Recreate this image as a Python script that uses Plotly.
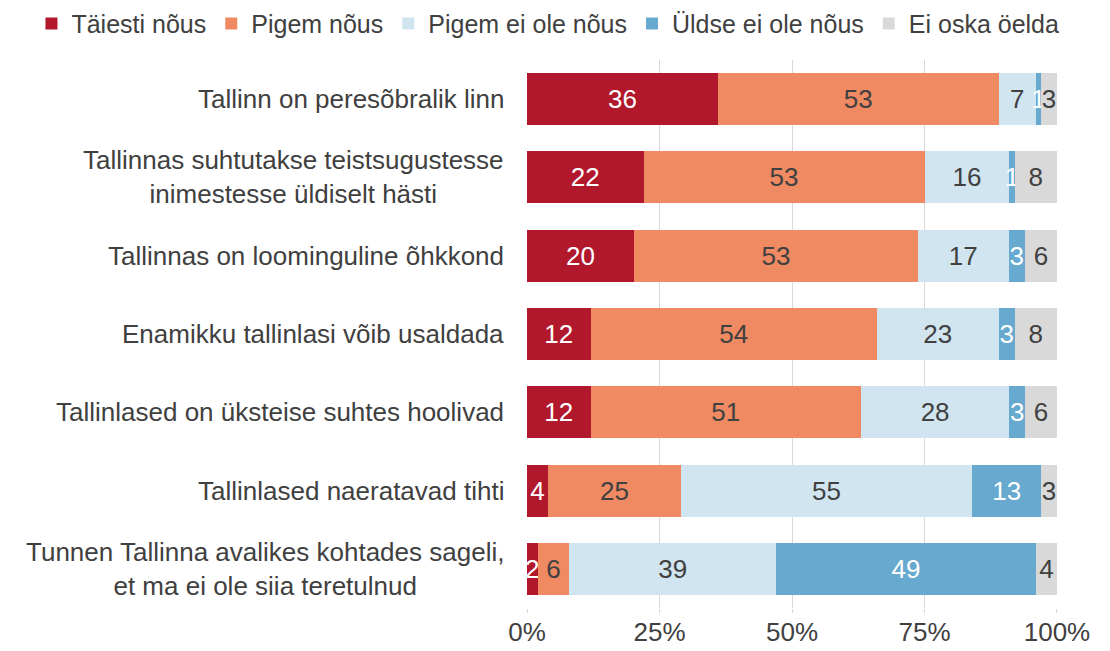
import plotly.graph_objects as go

categories = [
    "Tallinn on peresõbralik linn",
    "Tallinnas suhtutakse teistsugustesse<br>inimestesse üldiselt hästi",
    "Tallinnas on loominguline õhkkond",
    "Enamikku tallinlasi võib usaldada",
    "Tallinlased on üksteise suhtes hoolivad",
    "Tallinlased naeratavad tihti",
    "Tunnen Tallinna avalikes kohtades sageli,<br>et ma ei ole siia teretulnud",
]
series_names = ["Täiesti nõus", "Pigem nõus", "Pigem ei ole nõus", "Üldse ei ole nõus", "Ei oska öelda"]
taiesti = [36, 22, 20, 12, 12, 4, 2]
pigem = [53, 53, 53, 54, 51, 25, 6]
pigem_ei = [7, 16, 17, 23, 28, 55, 39]
uldse_ei = [1, 1, 3, 3, 3, 13, 49]
ei_oska = [3, 8, 6, 8, 6, 3, 4]
series_values = [taiesti, pigem, pigem_ei, uldse_ei, ei_oska]
tick_vals = [0, 25, 50, 75, 100]
tick_text = ["0%", "25%", "50%", "75%", "100%"]

colors = ["#B2182B", "#EF8A62", "#D1E5F0", "#67A9CF", "#D9D9D9"]
text_colors = ["white", "#404040", "#404040", "white", "#404040"]
FONT = "Liberation Sans, Arial, sans-serif"
FS = 26

fig = go.Figure()
for name, vals, c, tc in zip(series_names, series_values, colors, text_colors):
    fig.add_trace(go.Bar(
        y=categories, x=vals, name=name, orientation="h",
        marker=dict(color=c, line=dict(width=0)),
        text=[str(v) for v in vals], textposition="inside",
        insidetextanchor="middle", textangle=0,
        insidetextfont=dict(color=tc, size=FS, family=FONT),
        constraintext="none", cliponaxis=False,
    ))

for cat in categories:
    fig.add_annotation(
        x=0, xref="paper", y=cat, yref="y", text=cat, showarrow=False,
        xanchor="right", yanchor="middle", xshift=-21, align="center",
        font=dict(size=FS, color="#404040", family=FONT),
    )

fig.update_layout(
    barmode="stack", barnorm="percent", bargap=0.335,
    width=1102, height=643,
    margin=dict(l=519, r=53, t=52, b=43, autoexpand=False),
    paper_bgcolor="white", plot_bgcolor="white",
    font=dict(family=FONT, size=FS, color="#404040"),
    uniformtext=dict(minsize=FS, mode="show"),
    legend=dict(orientation="h", x=-0.935, xanchor="left", y=1.066, yanchor="middle",
                font=dict(size=25, color="#404040", family=FONT),
                traceorder="normal", itemclick=False, bgcolor="rgba(0,0,0,0)"),
    showlegend=True,
)
fig.update_xaxes(range=[0, 100.001], tickvals=tick_vals, ticktext=tick_text,
                 showgrid=True, gridcolor="#D9D9D9", gridwidth=1, zeroline=False,
                 showline=False, ticks="outside", ticklen=4, tickcolor="#D9D9D9",
                 ticklabelstandoff=-3, tickfont=dict(size=FS, color="#404040", family=FONT),
                 automargin=False, fixedrange=True)
fig.update_yaxes(autorange="reversed", showticklabels=False, showgrid=False,
                 zeroline=False, showline=False, ticks="", automargin=False, fixedrange=True)

fig.write_html("out.html")
